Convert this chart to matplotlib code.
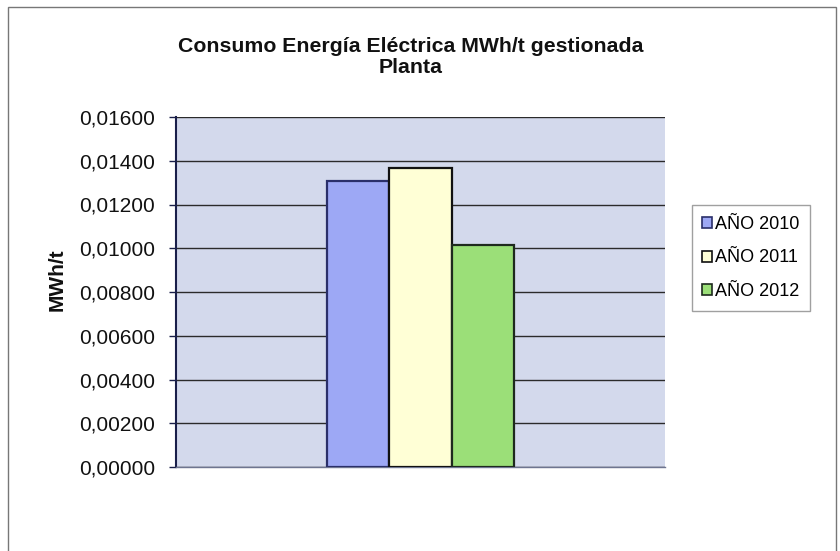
import matplotlib
matplotlib.use("Agg")
import matplotlib.pyplot as plt
from matplotlib.patches import Patch, Rectangle
from matplotlib.ticker import FuncFormatter

plt.rcParams['font.family'] = ['Liberation Sans', 'DejaVu Sans']

series = ["AÑO 2010", "AÑO 2011", "AÑO 2012"]
values = [0.01307, 0.01368, 0.01015]
fill_colors = ["#9DA8F5", "#FFFFD6", "#9BDF78"]
edge_colors = ["#2A2F6A", "#111111", "#1E2A1E"]
y_ticks = [0.0, 0.002, 0.004, 0.006, 0.008, 0.010, 0.012, 0.014, 0.016]

W, H = 840, 551
fig = plt.figure(figsize=(W / 100, H / 100), dpi=100)
fig.patch.set_facecolor("white")

# outer chart frame
fig.add_artist(Rectangle((8 / W, -0.05), (836 - 8) / W, 1.05 - 7 / H,
                         transform=fig.transFigure, fill=False,
                         edgecolor="#777777", linewidth=1.0))

ax = fig.add_axes([176 / W, (H - 467) / H, 489 / W, 350 / H])
ax.set_facecolor("#D3D9EC")

bar_w = 0.127
offsets = [-bar_w, 0.0, bar_w]
for name, v, off, fc, ec in zip(series, values, offsets, fill_colors, edge_colors):
    ax.bar(off, v, width=bar_w, color=fc, edgecolor=ec, linewidth=1.6,
           zorder=3, label=name)

ax.set_xlim(-0.5, 0.5)
ax.set_ylim(0, 0.016)
ax.set_yticks(y_ticks)
ax.yaxis.set_major_formatter(FuncFormatter(lambda v, p: f"{v:.5f}".replace(".", ",")))
ax.set_xticks([])
ax.grid(axis="y", color="#2B2B2B", linewidth=1.0, zorder=1)
ax.set_axisbelow(True)

for s in ["top", "right"]:
    ax.spines[s].set_visible(False)
ax.spines["left"].set_color("#1A1F4A")
ax.spines["left"].set_linewidth(1.5)
ax.spines["bottom"].set_color("#6E7590")
ax.spines["bottom"].set_linewidth(1.0)
ax.tick_params(axis="y", direction="out", length=5, width=1, color="#1A1F4A",
               labelsize=15, pad=10, labelcolor="#111111")

fig.text(57 / W, 1 - 280 / H, "MWh/t", rotation=90, ha="center", va="center",
         fontsize=15, fontweight="bold", color="#111111")

fig.text(411 / W, 1 - 57 / H, "Consumo Energía Eléctrica MWh/t gestionada\nPlanta",
         ha="center", va="center", fontsize=15.3, fontweight="bold",
         linespacing=1.15, color="#111111")

handles = [Patch(facecolor=fc, edgecolor=ec, linewidth=1.2)
           for fc, ec in zip(fill_colors, edge_colors)]
leg = fig.legend(handles, series, loc="center",
                 bbox_to_anchor=(751 / W, 1 - 258 / H),
                 fontsize=13, frameon=True, fancybox=False,
                 edgecolor="#888888", handlelength=0.55, handleheight=0.55,
                 handletextpad=0.15, labelspacing=0.9, borderpad=0.6)
leg.get_frame().set_linewidth(1.0)

fig.savefig("out.png", dpi=100, facecolor="white")
